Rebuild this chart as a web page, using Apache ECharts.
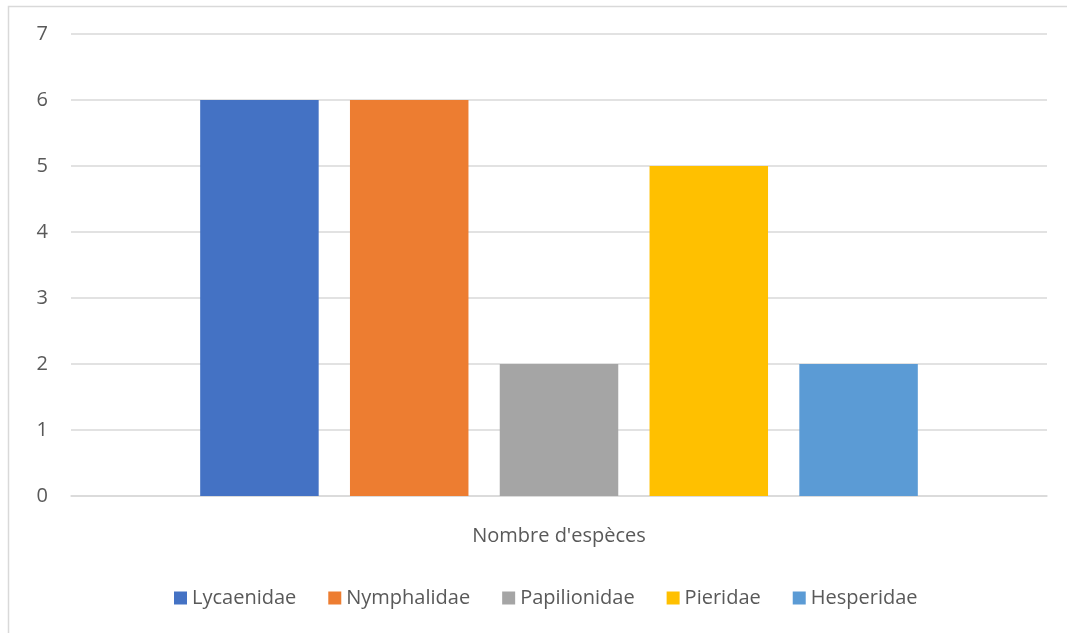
<!DOCTYPE html>
<html><head><meta charset="utf-8">
<script src="https://cdn.jsdelivr.net/npm/echarts@6/dist/echarts.min.js"></script>
<style>html,body{margin:0;padding:0;background:#fff}#c{width:1067px;height:633px}</style>
</head><body><div id="c"></div>
<script>
const categories = ["Nombre d'espèces"];
const seriesNames = ["Lycaenidae", "Nymphalidae", "Papilionidae", "Pieridae", "Hesperidae"];
const lycaenidae = [6];
const nymphalidae = [6];
const papilionidae = [2];
const pieridae = [5];
const hesperidae = [2];
const colors = ["#4472C4", "#ED7D31", "#A5A5A5", "#FFC000", "#5B9BD5"];
const values = [lycaenidae, nymphalidae, papilionidae, pieridae, hesperidae];
const font = "'Open Sans', 'Noto Sans', sans-serif";
const chart = echarts.init(document.getElementById('c'), null, {renderer: 'canvas'});
chart.setOption({
  animation: false,
  color: colors,
  graphic: [{type: 'rect', shape: {x: 8.5, y: 6.5, width: 1200, height: 1000}, style: {fill: 'none', stroke: '#d9d9d9', lineWidth: 1.5}, silent: true}],
  grid: {left: 71, right: 20, top: 34, bottom: 137},
  legend: {
    top: 583, left: 169, itemWidth: 13, itemHeight: 13, itemGap: 32, icon: 'rect',
    textStyle: {color: '#595959', fontSize: 20, fontFamily: font},
    data: seriesNames
  },
  xAxis: {
    type: 'category', data: categories,
    axisLine: {lineStyle: {color: '#d9d9d9', width: 1.5}},
    axisTick: {show: false},
    axisLabel: {color: '#595959', fontSize: 20, fontFamily: font, margin: 30}
  },
  yAxis: {
    type: 'value', min: 0, max: 7, interval: 1,
    axisLine: {show: false}, axisTick: {show: false},
    splitLine: {lineStyle: {color: '#d9d9d9', width: 1.5}},
    axisLabel: {color: '#595959', fontSize: 20, fontFamily: font, margin: 23}
  },
  series: seriesNames.map((n, i) => ({
    name: n, type: 'bar', data: values[i], barWidth: 118.5, barGap: '26.4%'
  }))
});
</script></body></html>
